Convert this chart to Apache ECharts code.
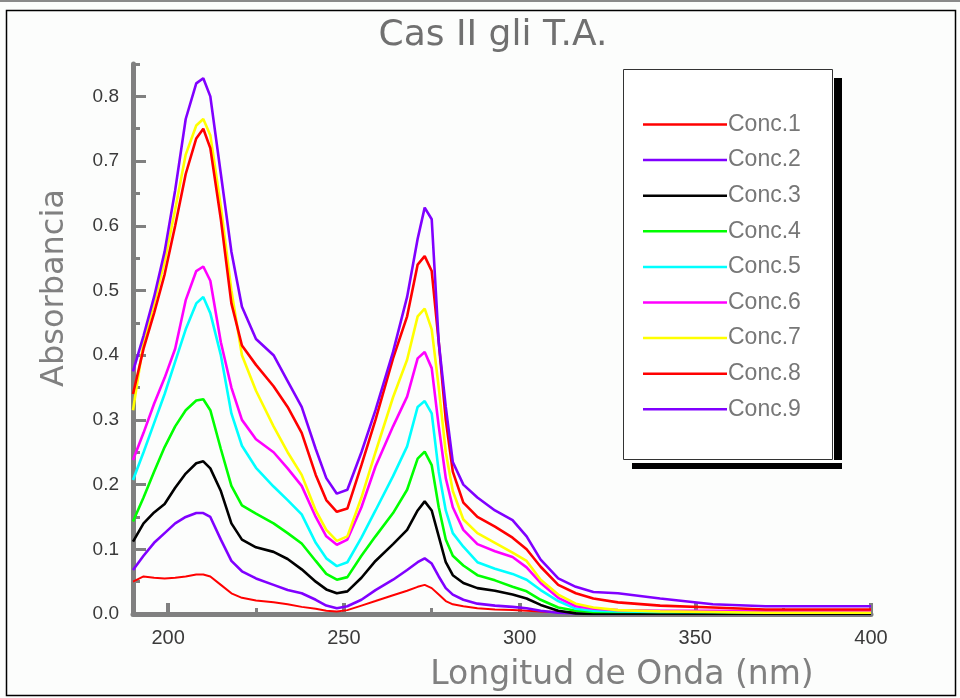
<!DOCTYPE html>
<html>
<head>
<meta charset="utf-8">
<title>Cas II gli T.A.</title>
<script src="https://cdn.jsdelivr.net/npm/echarts@6/dist/echarts.min.js"></script>
<style>
  html, body { margin: 0; padding: 0; background: #fcfdfc; }
  #chart { width: 960px; height: 698px; }
</style>
</head>
<body>
<div id="chart"></div>
<script>
// longitud de onda (nm)
var wavelengths = [190, 193, 196, 199, 202, 205, 208, 210, 212, 215, 218, 221, 225, 230, 234, 238, 242, 245, 248, 251, 255, 259, 264, 268, 271, 273, 275, 277, 279, 281, 284, 288, 293, 298, 302, 306, 311, 316, 321, 328, 340, 355, 370, 385, 400]

var conc1 = [0.050, 0.058, 0.056, 0.055, 0.056, 0.058, 0.061, 0.061, 0.058, 0.045, 0.032, 0.025, 0.021, 0.018, 0.015, 0.011, 0.008, 0.005, 0.004, 0.006, 0.013, 0.020, 0.029, 0.036, 0.042, 0.045, 0.040, 0.030, 0.020, 0.015, 0.012, 0.009, 0.007, 0.006, 0.005, 0.004, 0.003, 0.003, 0.003, 0.003, 0.003, 0.003, 0.003, 0.003, 0.003]
var conc2 = [0.068, 0.090, 0.110, 0.125, 0.140, 0.150, 0.156, 0.156, 0.150, 0.115, 0.082, 0.066, 0.055, 0.045, 0.037, 0.032, 0.022, 0.013, 0.009, 0.012, 0.022, 0.037, 0.053, 0.068, 0.080, 0.086, 0.078, 0.058, 0.040, 0.030, 0.022, 0.016, 0.013, 0.011, 0.009, 0.005, 0.002, 0.001, 0.000, 0.000, 0.000, 0.000, 0.000, 0.000, 0.000]
var conc3 = [0.112, 0.140, 0.157, 0.170, 0.195, 0.217, 0.233, 0.236, 0.225, 0.190, 0.140, 0.115, 0.103, 0.096, 0.085, 0.069, 0.050, 0.038, 0.032, 0.035, 0.056, 0.082, 0.108, 0.130, 0.160, 0.174, 0.160, 0.120, 0.080, 0.060, 0.048, 0.040, 0.036, 0.030, 0.024, 0.014, 0.005, 0.001, 0.000, 0.000, 0.000, 0.000, 0.000, 0.000, 0.000]
var conc4 = [0.143, 0.180, 0.220, 0.258, 0.290, 0.315, 0.330, 0.332, 0.315, 0.255, 0.198, 0.168, 0.155, 0.140, 0.125, 0.109, 0.082, 0.062, 0.053, 0.057, 0.090, 0.120, 0.156, 0.192, 0.240, 0.251, 0.230, 0.165, 0.115, 0.090, 0.075, 0.060, 0.052, 0.042, 0.035, 0.022, 0.010, 0.005, 0.003, 0.003, 0.003, 0.003, 0.002, 0.002, 0.002]
var conc5 = [0.207, 0.250, 0.295, 0.340, 0.390, 0.440, 0.480, 0.490, 0.465, 0.400, 0.310, 0.260, 0.226, 0.197, 0.176, 0.154, 0.110, 0.086, 0.074, 0.080, 0.118, 0.160, 0.213, 0.259, 0.320, 0.329, 0.310, 0.220, 0.160, 0.125, 0.104, 0.080, 0.070, 0.062, 0.053, 0.037, 0.020, 0.008, 0.005, 0.004, 0.003, 0.003, 0.003, 0.003, 0.003]
var conc6 = [0.238, 0.280, 0.325, 0.365, 0.410, 0.485, 0.530, 0.537, 0.515, 0.420, 0.350, 0.300, 0.270, 0.250, 0.225, 0.198, 0.150, 0.120, 0.107, 0.115, 0.165, 0.228, 0.290, 0.336, 0.395, 0.405, 0.380, 0.290, 0.210, 0.165, 0.130, 0.108, 0.097, 0.088, 0.072, 0.048, 0.025, 0.012, 0.008, 0.006, 0.005, 0.005, 0.004, 0.004, 0.004]
var conc7 = [0.315, 0.420, 0.480, 0.545, 0.625, 0.710, 0.755, 0.765, 0.740, 0.630, 0.500, 0.400, 0.345, 0.290, 0.250, 0.215, 0.160, 0.130, 0.113, 0.120, 0.180, 0.250, 0.335, 0.393, 0.460, 0.472, 0.440, 0.350, 0.250, 0.190, 0.146, 0.125, 0.110, 0.095, 0.082, 0.053, 0.030, 0.016, 0.010, 0.006, 0.004, 0.003, 0.002, 0.002, 0.002]
var conc8 = [0.340, 0.410, 0.465, 0.525, 0.600, 0.680, 0.735, 0.750, 0.720, 0.610, 0.480, 0.415, 0.385, 0.352, 0.320, 0.280, 0.215, 0.176, 0.158, 0.163, 0.230, 0.300, 0.395, 0.460, 0.540, 0.553, 0.530, 0.420, 0.300, 0.220, 0.172, 0.150, 0.135, 0.118, 0.100, 0.073, 0.045, 0.032, 0.024, 0.018, 0.013, 0.010, 0.007, 0.007, 0.007]
var conc9 = [0.375, 0.430, 0.490, 0.560, 0.655, 0.765, 0.820, 0.828, 0.800, 0.680, 0.560, 0.475, 0.425, 0.400, 0.360, 0.320, 0.255, 0.210, 0.186, 0.192, 0.250, 0.315, 0.405, 0.490, 0.580, 0.628, 0.610, 0.420, 0.320, 0.235, 0.200, 0.180, 0.160, 0.145, 0.120, 0.084, 0.055, 0.042, 0.034, 0.032, 0.024, 0.015, 0.012, 0.012, 0.012]

var seriesNames = ['Conc.1', 'Conc.2', 'Conc.3', 'Conc.4', 'Conc.5', 'Conc.6', 'Conc.7', 'Conc.8', 'Conc.9']
var seriesColors = ['#ff0000', '#8000ff', '#000000', '#00ff00', '#00ffff', '#ff00ff', '#ffff00', '#ff0000', '#8000ff']

var xTicks = [200, 250, 300, 350, 400]
var xMinorTicks = [225, 275, 325, 375]
var yTicks = [0, 0.1, 0.2, 0.3, 0.4, 0.5, 0.6, 0.7, 0.8]
var yMinorTicks = [0.05, 0.15, 0.25, 0.35, 0.45, 0.55, 0.65, 0.75, 0.85]

var allConc = [conc1, conc2, conc3, conc4, conc5, conc6, conc7, conc8, conc9]

var chart = echarts.init(document.getElementById('chart'))

var axisGray = '#808080'
var labelFont = { color: '#3a3a3a', fontSize: 19, fontFamily: 'Liberation Sans' }

var series = allConc.map(function (vals, i) {
  return {
    name: seriesNames[i],
    type: 'line',
    xAxisIndex: 0,
    yAxisIndex: 0,
    symbol: 'none',
    smooth: false,
    lineStyle: { color: seriesColors[i], width: i === 0 ? 2 : 2.6 },
    itemStyle: { color: seriesColors[i] },
    data: wavelengths.map(function (w, j) { return [w, vals[j]] })
  }
})

var option = {
  backgroundColor: '#fcfdfc',
  animation: false,
  title: {
    text: 'Cas II gli T.A.',
    left: 488,
    top: 13,
    textAlign: 'center',
    textStyle: { color: '#707070', fontSize: 36, fontWeight: 'normal', fontFamily: 'DejaVu Sans' }
  },
  grid: { left: 133, right: 89, top: 64, bottom: 84, containLabel: false },
  legend: {
    orient: 'vertical',
    left: 643,
    top: 113,
    padding: 0,
    icon: 'rect',
    itemWidth: 84,
    itemHeight: 2.5,
    itemGap: 12.6,
    z: 10,
    textStyle: { color: '#777777', fontSize: 23, fontFamily: 'Liberation Sans', lineHeight: 20, padding: [0, 0, 0, -4] },
    data: seriesNames
  },
  xAxis: [{
    type: 'value',
    min: 190,
    max: 400,
    position: 'bottom',
    splitLine: { show: false },
    axisLine: { lineStyle: { color: axisGray, width: 5 } },
    axisTick: { inside: true, length: 11, customValues: xTicks, lineStyle: { color: axisGray, width: 4 } },
    axisLabel: { customValues: xTicks, margin: 14, fontSize: 20, color: '#3a3a3a', fontFamily: 'Liberation Sans' }
  }, {
    type: 'value',
    min: 190,
    max: 400,
    position: 'bottom',
    splitLine: { show: false },
    axisLine: { show: false },
    axisTick: { inside: true, length: 6, customValues: xMinorTicks, lineStyle: { color: axisGray, width: 3 } },
    axisLabel: { show: false }
  }],
  yAxis: [{
    type: 'value',
    min: 0,
    max: 0.85,
    position: 'left',
    splitLine: { show: false },
    axisLine: { show: true, lineStyle: { color: axisGray, width: 5 } },
    axisTick: { inside: true, length: 13, customValues: yTicks, lineStyle: { color: axisGray, width: 3 } },
    axisLabel: {
      customValues: yTicks,
      margin: 14,
      color: labelFont.color, fontSize: labelFont.fontSize, fontFamily: labelFont.fontFamily,
      formatter: function (v) { return v.toFixed(1) }
    }
  }, {
    type: 'value',
    min: 0,
    max: 0.85,
    position: 'left',
    splitLine: { show: false },
    axisLine: { show: false },
    axisTick: { inside: true, length: 7, customValues: yMinorTicks, lineStyle: { color: axisGray, width: 3 } },
    axisLabel: { show: false }
  }],
  graphic: [
    { type: 'rect', z: 0, silent: true, shape: { x: 0, y: 0, width: 960, height: 2 }, style: { fill: '#8a8a8a' } },
    { type: 'rect', z: 0, silent: true, shape: { x: 6.5, y: 10.5, width: 949, height: 685 }, style: { fill: 'none', stroke: '#000', lineWidth: 1.5 } },
    // caja de leyenda con sombra
    { type: 'rect', z: 5, silent: true, shape: { x: 834, y: 78, width: 8, height: 382 }, style: { fill: '#000' } },
    { type: 'rect', z: 5, silent: true, shape: { x: 632, y: 463, width: 210, height: 6 }, style: { fill: '#000' } },
    { type: 'rect', z: 6, silent: true, shape: { x: 623.5, y: 69.5, width: 209, height: 390 }, style: { fill: '#ffffff', stroke: '#333', lineWidth: 1 } },
    // nombres de ejes
    {
      type: 'text', z: 6, silent: true, x: 55, y: 288, rotation: Math.PI / 2,
      style: { text: 'Absorbancia', fill: '#808080', font: '32px "DejaVu Sans"', align: 'center', verticalAlign: 'middle' }
    },
    {
      type: 'text', z: 6, silent: true, x: 622, y: 675,
      style: { text: 'Longitud de Onda (nm)', fill: '#808080', font: '33px "DejaVu Sans"', align: 'center', verticalAlign: 'middle' }
    }
  ],
  series: series
}

chart.setOption(option)
</script>
</body>
</html>
